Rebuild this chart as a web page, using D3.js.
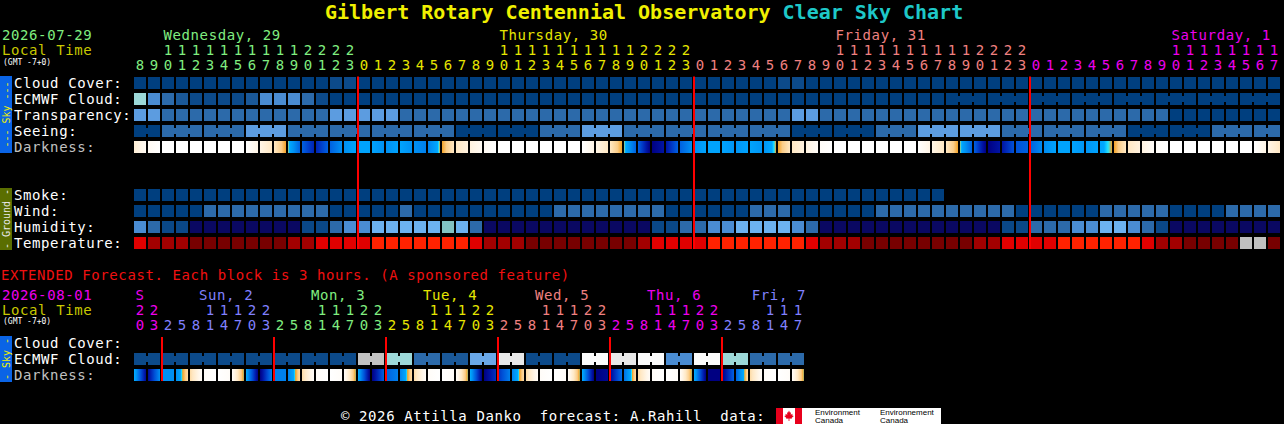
<!DOCTYPE html>
<html>
<head>
<meta charset="utf-8">
<script src="https://cdn.jsdelivr.net/npm/d3@7/dist/d3.min.js"></script>
<style>
html,body{margin:0;padding:0;background:#000;}
svg{display:block;}
text{font-family:"DejaVu Sans Mono",monospace;}
</style>
</head>
<body>
<svg id="chart" width="1284" height="424"></svg>
<script>
// ---------------- text / labels ----------------
const titleMain = "Gilbert Rotary Centennial Observatory ";
const titleTail = "Clear Sky Chart";
const topDate = "2026-07-29";
const extDate = "2026-08-01";
const localTime = "Local Time";
const tzLabel = "(GMT -7+0)";
const topDayNames = ["Wednesday, 29", "Thursday, 30", "Friday, 31", "Saturday, 1"];
const topDayColorIdx = [0, 1, 2, 3];
const topDayHours = [[8, 23], [0, 23], [0, 23], [0, 17]];
const extDayNames = ["S", "Sun, 2", "Mon, 3", "Tue, 4", "Wed, 5", "Thu, 6", "Fri, 7"];
const extDayColorIdx = [3, 4, 0, 1, 2, 3, 4];
const extDayHours = [[20, 23], [2, 23], [2, 23], [2, 23], [2, 23], [2, 23], [2, 17]];
const dayPalette = ["#80ee80", "#e6e600", "#f08080", "#ee00ee", "#8080ff"];
const skyLabels = ["Cloud Cover:", "ECMWF Cloud:", "Transparency:", "Seeing:", "Darkness:"];
const groundLabels = ["Smoke:", "Wind:", "Humidity:", "Temperature:"];
const extLabels = ["Cloud Cover:", "ECMWF Cloud:", "Darkness:"];
const extTitle = "EXTENDED Forecast. Each block is 3 hours. (A sponsored feature)";
const footerText = "\u00a9 2026 Attilla Danko  forecast: A.Rahill  data:";

// ---------------- data (one value per hourly column) ----------------
const cloudCover = [0,0,0,0,0,0,0,0,0,0, 0,0,0,0,10,10,0,0,0,0, 0,0,0,0,0,0,0,0,0,0, 0,0,0,0,0,0,0,0,0,0,
                    0,0,0,0,0,0,10,10,0,0, 0,0,0,0,0,0,0,0,0,0, 0,0,0,0,0,0,0,0,0,0, 0,0,0,0,0,0,0,0,0,0, 0,0];
const ecmwfCloud = [70,50,30,20,10,10,10,10,20,50, 50,50,30,10,0,0,0,0,0,0, 0,0,0,0,0,0,0,0,0,0, 0,0,0,0,0,0,0,0,0,0,
                    0,0,0,0,0,0,0,0,0,0, 0,0,0,0,0,0,0,0,0,0, 0,0,0,0,0,0,0,0,0,0, 0,0,0,0,0,0,0,0,0,0, 0,0];
const transparency = [3,3,4,4,4,4,4,4,4,4, 4,4,4,4,3,3,3,3,3,4, 4,4,4,4,4,4,4,4,4,4, 4,4,4,4,4,4,4,4,4,4,
                      4,4,4,4,4,4,4,3,3,4, 4,4,4,4,4,4,4,4,4,4, 4,4,4,4,4,4,4,4,4,4, 4,4,4,4,5,5,5,5,5,5, 5,5];
const seeing = [5,5,4,4,4,4,4,4,3,3, 3,4,4,4,4,4,4,4,4,4, 4,4,4,5,5,5,5,5,5,4, 4,4,3,3,3,4,4,4,4,4,
                4,4,4,4,4,4,4,5,5,5, 5,5,5,4,4,4,3,3,3,3, 3,3,4,4,4,4,4,4,4,4, 4,5,5,5,5,5,5,4,4,4, 4,4];
// darkness level at the left edge of each column (plus the closing edge)
const darkness = [1.5,0.5,0,0,0,0,0,0,0,1, 2,3.6,6.5,8.5,6.5,5,4.2,4.2,5,4.2, 5,5.5,3.6,2,1.2,0.5,0,0,0,0,
                  0,0,0,1,2,3.6,6.5,10,9,6.5, 5,4.2,4.2,4.8,4.2,4.8,3.6,2,1.2,0.3, 0,0,0,0,0,0,0,1,2,3.6,
                  6.5,10,9,7,6.5,5.2,4.2,4.2,4.8,4.2, 3.6,2,1.2,0.3,0,0,0,0,0,0, 0,1,2];
const smoke = [0,0,0,0,0,0,0,0,0,0, 0,0,0,0,0,0,0,0,0,0, 0,0,0,0,0,0,0,0,0,0, 0,0,0,0,0,0,0,0,0,0,
               0,0,0,0,0,0,0,0,0,0, 0,0,0,0,0,0,0,0];
const wind = [3,3,3,4,4,8,8,8,9,9, 9,9,8,8,5,4,4,4,4,7, 5,4,4,4,4,4,4,4,4,4, 7,8,8,9,9,8,8,7,5,4,
              4,4,4,4,7,7,7,5,4,4, 4,4,4,7,8,9,9,10,9,8, 8,8,7,5,4,4,4,4,5,7, 8,8,8,7,5,4,4,5,7,8, 8,8];
const humidity = [37,32,27,27,22,20,18,17,16,17, 19,22,27,28,32,37,38,42,43,43, 44,44,47,42,32,24,21,19,18,17,
                  16,16,17,18,20,22,24,27,28,32, 33,37,38,42,43,44,43,37,32,24, 22,20,19,18,17,16,16,17,18,20,
                  22,24,27,28,31,32,33,37,38,42, 42,38,32,27,24,22,21,20,19,18, 18,19];
const temperature = [90,97,100,102,105,107,108,109,110,109, 107,102,99,94,92,90,88,85,84,83,
                     82,81,81,84,89,97,100,103,105,107, 108,109,110,110,109,107,101,94,92,90,
                     88,85,84,83,82,82,83,85,90,97, 101,103,105,107,108,109,110,111,110,108,
                     103,99,94,92,90,88,85,84,83,82, 82,84,90,97,101,106,109,111,112,113, 114,111];

// ---------------- extended data (one value per 3-hour block) ----------------
const extEcmwf = [10,10,10,10,10,10,10,10,10,10, 10,10,10,10,10,10,80,80,70,70, 30,30,20,20,60,60,90,90,10,10,
                  10,10,100,100,90,90,100,100,50,50, 100,100,70,70,30,30,30,30];
const extDarkness = [3.8,9.5,5,5,2.5,0.3,0,0.3, 3.8,10,5.5,5.5,2.5,0.3,0,0.3, 3.8,10,6.5,5.5,2.5,0.3,0,0.3,
                     3.8,10,8,5.5,2.5,0.3,0,0.3, 3.8,10,9.5,6,2.5,0.3,0,0.3, 3.8,10,10,6.5,2.5,0.3,0,0.3, 3.8];

// ---------------- colour scales ----------------
const cloudColor = d3.scaleThreshold().domain([5,15,25,35,45,55,65,75,85,95])
  .range(["#003f7f","#0c4a8a","#1a5898","#2c6aaa","#3c7cc0","#4a8cd2","#6aa8e8","#9cd8d8","#c2c2c2","#e8e8e8","#fbfbfb"]);
const levelColor = d3.scaleOrdinal().domain([5,4,3,2,1])
  .range(["#003f7f","#2c6aaa","#5c9ce0","#7fbcf4","#a8d8f8"]);
const smokeColor = d3.scaleThreshold().domain([2,5,10]).range(["#003f7f","#2c6aaa","#5c9ce0","#c2c2c2"]);
const windColor = d3.scaleThreshold().domain([6,12,17,29,45])
  .range(["#003f7f","#2c6aaa","#5c9ce0","#7fbcf4","#c2c2c2","#fbfbfb"]);
const humidColor = d3.scaleThreshold().domain([25,30,35,40,45,50,55])
  .range(["#0a0862","#0a4888","#2c6aaa","#4a8cd2","#6cb2f0","#82c2c2","#9cd8d8","#c2c2c2"]);
const tempColor = d3.scaleThreshold().domain([86,95,104,113])
  .range(["#ff2200","#e00000","#a20000","#780000","#c0c0c0"]);
const darkDomain = [0,1,2,3,3.6,3.8,4,5,6,7,8,9,10];
const darkColor = d3.scaleLinear().domain(darkDomain)
  .range(["#ffffff","#fff5e6","#ffe8c4","#fbcd88","#f4a226","#22e4ff","#00a8ff","#0090f2","#0070e6","#0052d8","#0032c0","#0014a4","#000082"])
  .clamp(true);

// ---------------- layout ----------------
const svg = d3.select("#chart");
svg.append("rect").attr("width",1284).attr("height",424).attr("fill","#000");
const defs = svg.append("defs");
const x = d3.scaleLinear().domain([0, 82]).range([134, 1282]);
const STEP = x(1) - x(0), CW = 12, CH = 12, RS = 16;
const FS = 14, LS = "0.6px";

const topCols = [];
topDayHours.forEach(([h0,h1], d) => { for (let h = h0; h <= h1; h++) topCols.push({h, d}); });
const extCols = [];
extDayHours.forEach(([h0,h1], d) => { for (let h = h0; h <= h1; h += 3) extCols.push({h, d}); });

function txt(s, tx, ty, color, size, anchor) {
  return svg.append("text").attr("x", tx).attr("y", ty).attr("fill", color)
    .attr("font-size", size || FS).attr("letter-spacing", size ? null : LS)
    .attr("text-anchor", anchor || "start").style("white-space", "pre").text(s);
}

// title
const title = svg.append("text").attr("x", 325).attr("y", 18.5).attr("font-size", 20)
  .attr("font-weight", "bold").style("white-space", "pre");
title.append("tspan").attr("fill", "#f0f000").text(titleMain);
title.append("tspan").attr("fill", "#1ec8c8").text(titleTail);

// header block helper
function header(cols, dayNames, dayColorIdx, yDay, yTens, yOnes, extMode) {
  const g = svg.append("g");
  g.selectAll(null).data(cols).join("text")
    .attr("x", (d,i) => x(i) + CW/2).attr("y", yOnes).attr("text-anchor", "middle")
    .attr("font-size", FS).attr("fill", d => dayPalette[dayColorIdx[d.d]]).text(d => d.h % 10);
  g.selectAll(null).data(cols.map((d,i) => ({...d, i})).filter(d => d.h >= 10)).join("text")
    .attr("x", d => x(d.i) + CW/2).attr("y", yTens).attr("text-anchor", "middle")
    .attr("font-size", FS).attr("fill", d => dayPalette[dayColorIdx[d.d]]).text(d => Math.floor(d.h / 10));
  dayNames.forEach((name, d) => {
    const idx = cols.map((c,i) => ({...c, i})).filter(c => c.d === d);
    let lx;
    if (!extMode) {
      const first10 = idx.find(c => c.h >= 10);
      lx = x(first10.i) + 1.5;
    } else {
      lx = idx.length < 3 ? x(idx[0].i) + 1.5 : x(idx[0].i) + 37;
      const wEnd = x(cols.length) - name.length * 9.03;
      lx = Math.min(lx, wEnd);
    }
    txt(name, lx, yDay, dayPalette[dayColorIdx[d]]);
  });
}

// top header
txt(topDate, 2, 39.5, dayPalette[0]);
txt(localTime, 2, 54.5, "#c8c800");
txt(tzLabel, 3, 64.5, "#ffffff", 8);
header(topCols, topDayNames, topDayColorIdx, 39.5, 54.5, 69.5, false);

// generic row drawers
function cells(vals, color, y) {
  svg.append("g").selectAll("rect").data(vals).join("rect")
    .attr("x", (d,i) => x(i)).attr("y", y).attr("width", CW).attr("height", CH)
    .attr("fill", d => color(d));
}
function bridges(vals, color, y, test) {
  const idx = d3.range(vals.length - 1).filter(test);
  svg.append("g").selectAll("rect").data(idx).join("rect")
    .attr("x", i => x(i) + CW).attr("y", y + 3).attr("width", STEP - CW).attr("height", 6)
    .attr("fill", i => color(vals[i]));
}
let gid = 0;
function darkFill(a, b) {
  if (a === b) return darkColor(a);
  const lo = Math.min(a,b), hi = Math.max(a,b);
  const mids = darkDomain.filter(v => v > lo && v < hi).sort((p,q) => a < b ? p - q : q - p);
  const pts = [a, ...mids, b];
  const id = "dk" + (gid++);
  const g = defs.append("linearGradient").attr("id", id).attr("x1", 0).attr("x2", 1).attr("y1", 0).attr("y2", 0);
  pts.forEach(v => g.append("stop").attr("offset", (v - a) / (b - a)).attr("stop-color", darkColor(v)));
  return "url(#" + id + ")";
}
function darkRow(edges, y) {
  const vals = edges.slice(0, -1);
  svg.append("g").selectAll("rect").data(vals).join("rect")
    .attr("x", (d,i) => x(i)).attr("y", y).attr("width", CW).attr("height", CH)
    .attr("fill", (d,i) => darkFill(edges[i], edges[i+1]));
}
function rowLabels(labels, y0, lastGray) {
  labels.forEach((s, i) => txt(s, 14, y0 + i*RS + 10.5, (lastGray && i === labels.length - 1) ? "#c0c0c0" : "#ffffff"));
}
function sideBar(y0, y1, fill, label, color) {
  svg.append("rect").attr("x", 0).attr("y", y0).attr("width", 12).attr("height", y1 - y0).attr("fill", fill);
  svg.append("text").attr("transform", `translate(6.5,${(y0+y1)/2}) rotate(-90)`)
    .attr("text-anchor", "middle").attr("dominant-baseline", "central")
    .attr("font-size", 10).attr("fill", color).style("white-space","pre").text(label);
}

// sky rows
const skyY = d3.range(5).map(i => 77 + i*RS);
sideBar(76, 153, "#0a64e6", "--- Sky ---", "#f0f000");
rowLabels(skyLabels, 77, true);
cells(cloudCover, cloudColor, skyY[0]);
cells(ecmwfCloud, cloudColor, skyY[1]);
bridges(ecmwfCloud, cloudColor, skyY[1], i => i >= 58 && topCols[i+1].h % 3 !== 0);
cells(transparency, levelColor, skyY[2]);
cells(seeing, levelColor, skyY[3]);
bridges(seeing, levelColor, skyY[3], i => topCols[i+1].h % 3 !== 1);
darkRow(darkness, skyY[4]);

// ground rows
const grY = d3.range(4).map(i => 189 + i*RS);
sideBar(188, 250, "#5a6e00", "- Ground -", "#e8e8e8");
rowLabels(groundLabels, 189, false);
cells(smoke, smokeColor, grY[0]);
cells(wind, windColor, grY[1]);
cells(humidity, humidColor, grY[2]);
cells(temperature, tempColor, grY[3]);

// midnight lines (top)
svg.append("g").selectAll("rect").data(topCols.map((c,i) => ({...c, i})).filter(c => c.h === 0)).join("rect")
  .attr("x", d => x(d.i) - 1).attr("y", 76.5).attr("width", 2).attr("height", 249 - 76.5).attr("fill", "#ff0000");

// extended section
txt(extTitle, 1, 280, "#f01010");
txt(extDate, 2, 300, dayPalette[3]);
txt(localTime, 2, 315, "#c8c800");
txt(tzLabel, 3, 324, "#ffffff", 8);
header(extCols, extDayNames, extDayColorIdx, 300, 315, 330, true);
const exY = d3.range(3).map(i => 337 + i*RS);
sideBar(336, 382, "#0a64e6", "- Sky -", "#f0f000");
rowLabels(extLabels, 337, true);
cells(extEcmwf, cloudColor, exY[1]);
bridges(extEcmwf, cloudColor, exY[1], i => i % 2 === 0);
darkRow(extDarkness, exY[2]);
svg.append("g").selectAll("rect").data(extCols.map((c,i) => ({...c, i})).filter(c => c.h === 2)).join("rect")
  .attr("x", d => x(d.i) - 1).attr("y", 337).attr("width", 2).attr("height", 44).attr("fill", "#ff0000");

// footer
txt(footerText, 341, 421, "#ffffff");
const logo = svg.append("g");
logo.append("rect").attr("x", 776).attr("y", 408).attr("width", 26).attr("height", 16).attr("fill", "#ffffff");
logo.append("rect").attr("x", 776).attr("y", 408).attr("width", 7).attr("height", 16).attr("fill", "#e8001c");
logo.append("rect").attr("x", 795).attr("y", 408).attr("width", 7).attr("height", 16).attr("fill", "#e8001c");
logo.append("path").attr("transform", "translate(789,416)")
  .attr("d", "M0,-5.5L1,-3.3L2,-3.8L1.7,-1.2L3.6,-2.3L3.2,-0.6L4.8,0L2.6,1.9L2.9,2.8L0.4,2.4L0.4,5L-0.4,5L-0.4,2.4L-2.9,2.8L-2.6,1.9L-4.8,0L-3.2,-0.6L-3.6,-2.3L-1.7,-1.2L-2,-3.8L-1,-3.3Z")
  .attr("fill", "#e8001c");
logo.append("rect").attr("x", 802).attr("y", 408).attr("width", 139).attr("height", 16).attr("fill", "#ffffff");
[["Environment", 815], ["Environnement", 880]].forEach(([s, lx]) => {
  svg.append("text").attr("x", lx).attr("y", 415).attr("font-size", 8).attr("fill", "#000")
    .style("font-family", "'Liberation Sans', Arial, sans-serif").text(s);
  svg.append("text").attr("x", lx).attr("y", 423).attr("font-size", 8).attr("fill", "#000")
    .style("font-family", "'Liberation Sans', Arial, sans-serif").text("Canada");
});
</script>
</body>
</html>
